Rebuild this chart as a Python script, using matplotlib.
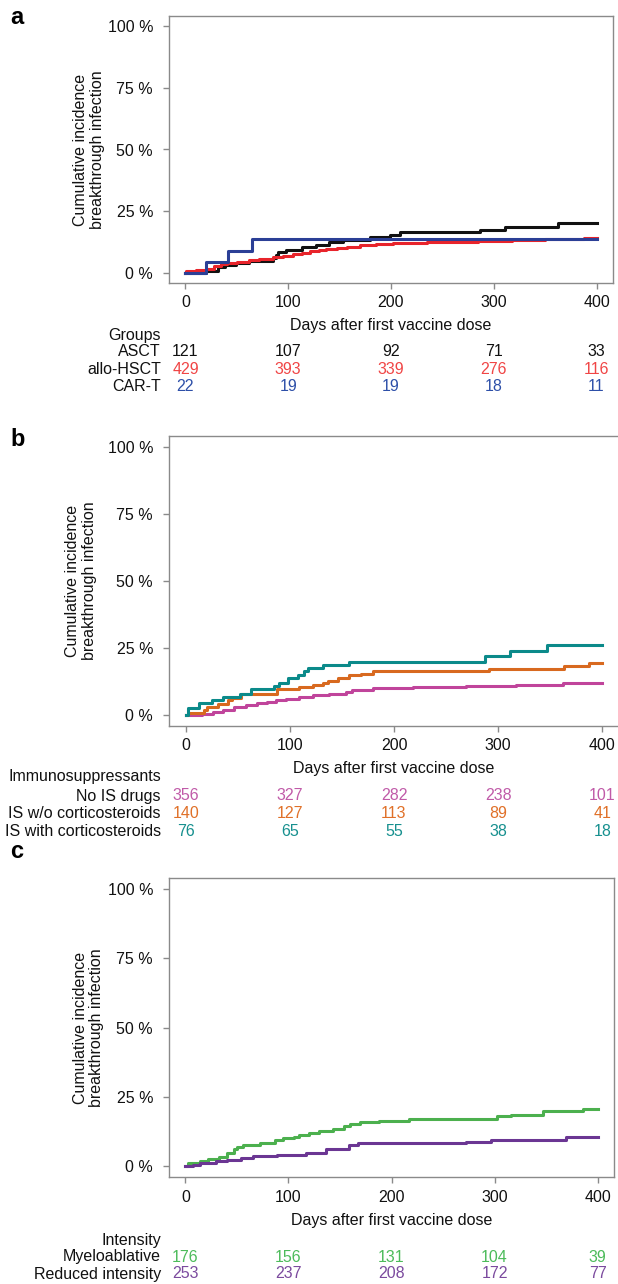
import matplotlib
matplotlib.use("Agg")
import matplotlib.pyplot as plt
from matplotlib.transforms import blended_transform_factory

plt.rcParams['font.family'] = ['Liberation Sans', 'DejaVu Sans']
FS = 11.5

W, H = 618, 1284

# ---------------- data ----------------
# Panel a: Groups
a_ascT_t = [0, 20, 32, 38, 49, 62, 85, 88, 90, 98, 113, 127, 140, 153, 180, 199, 209, 287, 311, 362, 400]
a_ascT_v = [0, 1.0, 2.5, 3.3, 4.0, 5.0, 6.0, 7.5, 8.5, 9.5, 10.5, 11.5, 12.5, 13.5, 14.5, 15.5, 16.5, 17.5, 18.5, 20.3, 20.3]
a_allo_t = [0, 1, 10, 20, 28, 35, 40, 50, 62, 72, 85, 95, 105, 113, 121, 130, 137, 147, 157, 170, 185, 202, 220, 235, 250, 267, 285, 300, 318, 332, 350, 365, 388, 400]
a_allo_v = [0, 0.9, 1.3, 1.8, 2.8, 3.5, 4.1, 4.6, 5.2, 5.8, 6.4, 7.0, 7.7, 8.3, 8.9, 9.4, 9.8, 10.3, 10.7, 11.4, 11.7, 12.0, 12.2, 12.4, 12.6, 12.7, 12.9, 13.1, 13.3, 13.4, 13.6, 13.7, 14.1, 14.1]
a_cart_t = [0, 20, 41, 65, 400]
a_cart_v = [0, 4.5, 9.1, 13.6, 13.6]

a_names = ["ASCT", "allo-HSCT", "CAR-T"]
a_risk = [[121, 107, 92, 71, 33],
          [429, 393, 339, 276, 116],
          [22, 19, 19, 18, 11]]

# Panel b: Immunosuppressants
b_nois_t = [0, 16, 26, 36, 46, 58, 68, 78, 87, 96, 109, 122, 138, 154, 160, 180, 199, 218, 269, 317, 362, 400]
b_nois_v = [0, 0.6, 1.2, 2.1, 3.1, 3.7, 4.6, 5.0, 5.6, 6.2, 6.8, 7.5, 8.1, 8.7, 9.3, 10.0, 10.3, 10.6, 10.8, 11.4, 12.1, 12.1]
b_isw_t = [0, 2, 18, 20, 31, 41, 44, 53, 88, 109, 122, 132, 137, 146, 157, 168, 180, 291, 363, 387, 400]
b_isw_v = [0, 0.9, 1.9, 3.1, 4.1, 5.6, 6.6, 7.9, 9.6, 10.6, 11.2, 12.1, 12.8, 13.7, 14.9, 15.5, 16.4, 17.4, 18.3, 19.3, 19.3]
b_isc_t = [0, 2, 13, 25, 36, 52, 63, 85, 90, 98, 108, 114, 117, 132, 157, 287, 311, 347, 400]
b_isc_v = [0, 2.7, 4.4, 5.6, 6.8, 8.1, 9.6, 10.8, 12.2, 13.7, 14.9, 16.4, 17.7, 18.7, 19.9, 22.0, 24.1, 26.1, 26.1]

b_names = ["No IS drugs", "IS w/o corticosteroids", "IS with corticosteroids"]
b_risk = [[356, 327, 282, 238, 101],
          [140, 127, 113, 89, 41],
          [76, 65, 55, 38, 18]]

# Panel c: Intensity
c_mac_t = [0, 2, 14, 22, 33, 40, 47, 50, 56, 72, 87, 95, 105, 110, 120, 130, 143, 154, 160, 169, 188, 217, 302, 316, 347, 386, 400]
c_mac_v = [0, 1.0, 1.9, 2.5, 3.4, 4.6, 6.0, 7.0, 7.6, 8.2, 9.5, 10.0, 10.6, 11.3, 11.8, 12.5, 13.5, 14.5, 15.0, 15.7, 16.3, 16.9, 17.9, 18.5, 19.7, 20.6, 20.6]
c_ric_t = [0, 7, 14, 30, 40, 54, 66, 89, 117, 136, 159, 167, 272, 297, 369, 400]
c_ric_v = [0, 0.5, 1.1, 1.8, 2.3, 2.9, 3.5, 4.1, 4.8, 6.0, 7.6, 8.4, 8.8, 9.4, 10.4, 10.4]

c_names = ["Myeloablative", "Reduced intensity"]
c_risk = [[176, 156, 131, 104, 39],
          [253, 237, 208, 172, 77]]

risk_times = [0, 100, 200, 300, 400]
y_ticks = [0, 25, 50, 75, 100]
y_ticklabels = ["0 %", "25 %", "50 %", "75 %", "100 %"]

# ---------------- style ----------------
a_line_cols = ["#111111", "#E8242B", "#2B3F96"]
a_text_cols = ["#111111", "#F04545", "#2D4FA8"]
b_line_cols = ["#C0449B", "#D8691F", "#0B8A8A"]
b_text_cols = ["#C05AA8", "#E07028", "#17908F"]
c_line_cols = ["#4CB04E", "#6B3693"]
c_text_cols = ["#4CBB5A", "#7B4A9E"]
SPINE = "#8A8A8A"

fig = plt.figure(figsize=(W / 100, H / 100), dpi=100)


def rect(l, r, t, b):
    return [l / W, 1 - b / H, (r - l) / W, (b - t) / H]


def setup(ax, ylab_x, top_px, bot_px, xlab_center_px):
    ax.set_xlim(-16, 416)
    ax.set_ylim(-4, 104)
    ax.set_xticks(risk_times)
    ax.set_yticks(y_ticks)
    ax.set_yticklabels(y_ticklabels)
    for s in ax.spines.values():
        s.set_color(SPINE)
        s.set_linewidth(1.0)
    ax.tick_params(axis='both', colors=SPINE, labelcolor="#111111",
                   labelsize=FS, length=4.5, width=1.0)
    ax.tick_params(axis='y', pad=7)
    ax.tick_params(axis='x', pad=4.5)
    ax.set_xlabel("Days after first vaccine dose", fontsize=FS, color="#111111",
                  va='center')
    ax.xaxis.set_label_coords(0.5, (bot_px - xlab_center_px) / (bot_px - top_px))
    ax.set_ylabel("Cumulative incidence\nbreakthrough infection", fontsize=FS,
                  color="#111111", linespacing=1.15)
    ax.yaxis.set_label_coords(ylab_x, 0.5)


def risk_table(ax, header, header_y, names, risk, cols, row_ys):
    tr = blended_transform_factory(ax.transData, fig.transFigure)
    fig.text(161 / W, 1 - header_y / H, header, ha='right', va='center',
             fontsize=FS, color="#111111")
    for name, vals, col, y in zip(names, risk, cols, row_ys):
        fig.text(161 / W, 1 - y / H, name, ha='right', va='center',
                 fontsize=FS, color="#111111")
        for t, v in zip(risk_times, vals):
            ax.text(t, 1 - y / H, str(v), transform=tr, ha='center',
                    va='center', fontsize=FS, color=col, clip_on=False)


LW = 2.2

# Panel a
axa = fig.add_axes(rect(169, 613, 16, 283))
setup(axa, -0.145, 16, 283, 326)
for t, v, c in zip([a_ascT_t, a_allo_t, a_cart_t], [a_ascT_v, a_allo_v, a_cart_v], a_line_cols):
    axa.step(t, v, where='post', color=c, lw=LW)
risk_table(axa, "Groups", 335, a_names, a_risk, a_text_cols, [352, 369, 387])
fig.text(10 / W, 1 - 18 / H, "a", fontsize=17, fontweight='bold', va='center', ha='left')

# Panel b
axb = fig.add_axes(rect(169, 619, 436, 726))
setup(axb, -0.16, 436, 726, 769)
for t, v, c in zip([b_nois_t, b_isw_t, b_isc_t], [b_nois_v, b_isw_v, b_isc_v], b_line_cols):
    axb.step(t, v, where='post', color=c, lw=LW)
risk_table(axb, "Immunosuppressants", 777, b_names, b_risk, b_text_cols, [796, 814, 832])
fig.text(10 / W, 1 - 440 / H, "b", fontsize=17, fontweight='bold', va='center', ha='left')

# Panel c
axc = fig.add_axes(rect(169, 614, 878, 1177))
setup(axc, -0.145, 878, 1177, 1221)
for t, v, c in zip([c_mac_t, c_ric_t], [c_mac_v, c_ric_v], c_line_cols):
    axc.step(t, v, where='post', color=c, lw=LW)
risk_table(axc, "Intensity", 1241, c_names, c_risk, c_text_cols, [1257, 1274])
fig.text(10 / W, 1 - 852 / H, "c", fontsize=17, fontweight='bold', va='center', ha='left')

fig.savefig("out.png", dpi=100)
